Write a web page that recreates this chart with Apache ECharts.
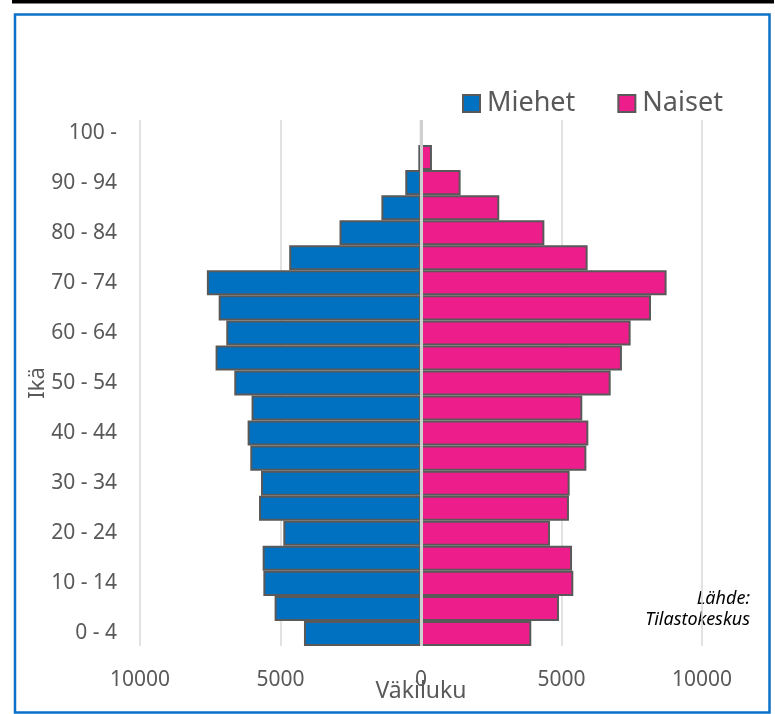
<!DOCTYPE html>
<html>
<head>
<meta charset="utf-8">
<script src="https://cdn.jsdelivr.net/npm/echarts@6/dist/echarts.min.js"></script>
<style>
html,body{margin:0;padding:0;background:#fff;}
#chart{width:775px;height:714px;}
</style>
</head>
<body>
<div id="chart"></div>
<script>
const categories = ["0 - 4","5 - 9","10 - 14","15 - 19","20 - 24","25 - 29","30 - 34","35 - 39","40 - 44","45 - 49","50 - 54","55 - 59","60 - 64","65 - 69","70 - 74","75 - 79","80 - 84","85 - 89","90 - 94","95 - 99","100 -"];
const men   = [4165,5210,5610,5635,4900,5765,5695,6075,6170,6030,6645,7310,6930,7200,7620,4690,2900,1410,560,95,5];
const women = [3925,4910,5420,5375,4590,5265,5290,5885,5955,5740,6750,7150,7460,8185,8740,5930,4390,2785,1410,390,25];
const xTicks = [-10000,-5000,0,5000,10000];

const FONT = "Noto Sans";
const chart = echarts.init(document.getElementById('chart'));
chart.setOption({
  animation: false,
  textStyle: {fontFamily: FONT},
  legend: {
    data: ['Miehet','Naiset'],
    left: 457, top: 85,
    icon: 'rect', itemWidth: 17, itemHeight: 17, itemGap: 42,
    textStyle: {fontSize: 27, color: '#595959', fontFamily: FONT, padding: [0,0,0,2]},
    itemStyle: {borderColor: '#595959', borderWidth: 2}
  },
  grid: {left: 140, right: 73, top: 120, bottom: 68, outerBoundsMode: 'none', containLabel: false},
  xAxis: {
    type: 'value', min: xTicks[0], max: xTicks[xTicks.length-1], interval: 5000,
    name: 'Väkiluku', nameLocation: 'middle', nameGap: 34, nameMoveOverlap: false,
    nameTextStyle: {fontSize: 23, color: '#595959', fontFamily: FONT},
    axisLine: {show: false}, axisTick: {show: false},
    axisLabel: {fontSize: 21, color: '#595959', margin: 24, formatter: v => String(Math.abs(v))},
    splitLine: {show: true, lineStyle: {color: '#d9d9d9', width: 1.5}}
  },
  yAxis: {
    type: 'category', data: categories,
    name: 'Ikä', nameLocation: 'middle', nameGap: 91, nameRotate: 90, nameMoveOverlap: false,
    nameTextStyle: {fontSize: 22, color: '#595959', fontFamily: FONT},
    axisLine: {show: false, onZero: false}, axisTick: {show: false},
    axisLabel: {fontSize: 21, color: '#595959', margin: 23, interval: 1}
  },
  series: [
    {
      name: 'Miehet', type: 'bar', data: men.map(v => -v),
      barWidth: '100%', barGap: '-100%', barCategoryGap: 0,
      itemStyle: {color: '#0070C0', borderColor: '#595959', borderWidth: 2}
    },
    {
      name: 'Naiset', type: 'bar', data: women,
      barWidth: '100%', barGap: '-100%', barCategoryGap: 0,
      itemStyle: {color: '#ED1E8C', borderColor: '#595959', borderWidth: 2},
      markLine: {
        silent: true, symbol: 'none', label: {show: false},
        lineStyle: {color: '#cfcfcf', width: 3, type: 'solid'},
        data: [{xAxis: 0}]
      }
    }
  ],
  graphic: [
    {type: 'rect', shape: {x: 12, y: 0, width: 762, height: 3.5}, style: {fill: '#000'}, silent: true},
    {type: 'rect', shape: {x: 15, y: 14.5, width: 754.5, height: 698}, style: {fill: 'none', stroke: '#0A70C8', lineWidth: 2.5}, silent: true},
    {type: 'text', x: 750, y: 588, silent: true,
     style: {text: 'Lähde:\nTilastokeskus', font: 'italic 18px "Noto Sans"', fill: '#000', align: 'right', textAlign: 'right', lineHeight: 21}}
  ]
});
</script>
</body>
</html>
